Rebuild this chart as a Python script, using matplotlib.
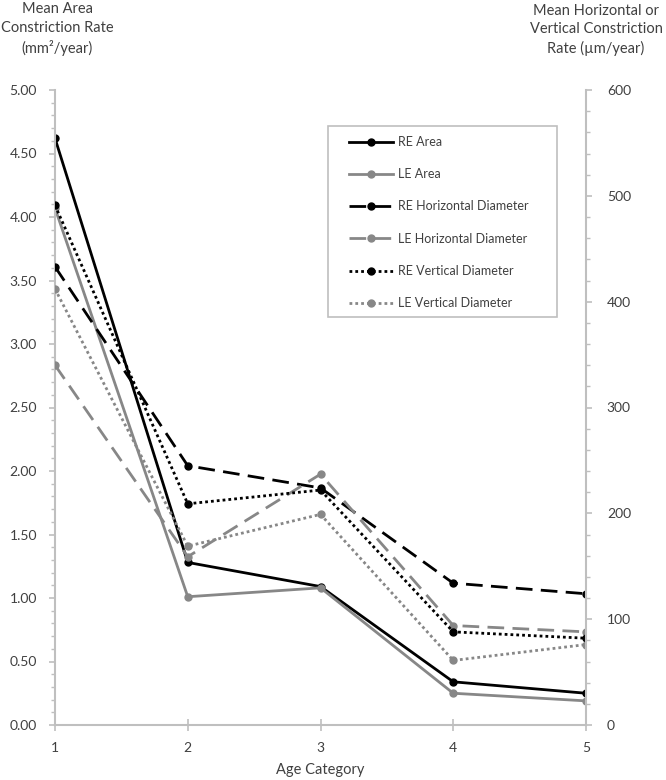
import matplotlib
matplotlib.use("Agg")
import matplotlib.pyplot as plt
from matplotlib.ticker import MultipleLocator, FormatStrFormatter
from matplotlib.patches import Rectangle

plt.rcParams['font.family'] = ['Lato', 'DejaVu Sans']

age = [1, 2, 3, 4, 5]
re_area = [4.62, 1.28, 1.09, 0.34, 0.25]
le_area = [4.07, 1.01, 1.08, 0.25, 0.19]
re_horiz = [433, 245, 224, 134, 124]
le_horiz = [340, 159, 237, 94, 88]
re_vert = [491, 209, 222, 88, 82]
le_vert = [412, 169, 199, 61, 76]

BLACK = '#000000'
GREY = '#878787'
AXC = '#bfbfbf'
TXT = '#404040'

W, H = 666, 780
fig = plt.figure(figsize=(W/100, H/100), dpi=100)
ax = fig.add_axes([55/W, 55/H, (586-55)/W, (725-90)/H])
ax2 = ax.twinx()

lw = 2.0
ms = 5
dashed = (0, (6, 3))
dotted = (0, (1, 1.1))

h1, = ax.plot(age, re_area, color=BLACK, lw=lw, marker='o', ms=ms, label='RE Area')
h2, = ax.plot(age, le_area, color=GREY, lw=lw, marker='o', ms=ms, label='LE Area')
h3, = ax2.plot(age, re_horiz, color=BLACK, lw=lw, ls=dashed, marker='o', ms=ms, label='RE Horizontal Diameter')
h4, = ax2.plot(age, le_horiz, color=GREY, lw=lw, ls=dashed, marker='o', ms=ms, label='LE Horizontal Diameter')
h5, = ax2.plot(age, re_vert, color=BLACK, lw=lw, ls=dotted, marker='o', ms=ms, label='RE Vertical Diameter')
h6, = ax2.plot(age, le_vert, color=GREY, lw=lw, ls=dotted, marker='o', ms=ms, label='LE Vertical Diameter')

ax.set_xlim(1, 5)
ax.set_ylim(0, 5)
ax2.set_ylim(0, 600)
ax.set_xticks(age)
ax.yaxis.set_major_locator(MultipleLocator(0.5))
ax.yaxis.set_minor_locator(MultipleLocator(0.1))
ax.yaxis.set_major_formatter(FormatStrFormatter('%.2f'))
ax2.yaxis.set_major_locator(MultipleLocator(100))
ax2.yaxis.set_minor_locator(MultipleLocator(20))

for a in (ax, ax2):
    a.spines['top'].set_visible(False)
    for s in ('left', 'right', 'bottom'):
        a.spines[s].set_color(AXC)
        a.spines[s].set_linewidth(1.5)
    a.tick_params(axis='both', which='both', colors=AXC, labelcolor=TXT, labelsize=10)
ax.spines['right'].set_visible(False)
ax2.spines['left'].set_visible(False)
ax2.spines['bottom'].set_visible(False)
ax.tick_params(axis='y', which='major', length=4, width=1.2, pad=9)
ax.tick_params(axis='y', which='minor', length=3, width=1)
ax.tick_params(axis='x', which='major', direction='inout', length=8, width=1.2, pad=8)
ax2.tick_params(axis='y', which='major', length=4, width=1.2, pad=11)
ax2.tick_params(axis='y', which='minor', length=3, width=1)

fig.text(320/W, 1 - 770/H, 'Age Category', ha='center', va='center', fontsize=10.5, color=TXT)

fig.text(57/W, 1 - 29/H, 'Mean Area\nConstriction Rate\n(mm²/year)', ha='center', va='center',
         fontsize=10.5, color=TXT, linespacing=1.4)
fig.text(596/W, 1 - 30/H, 'Mean Horizontal or\nVertical Constriction\nRate (µm/year)', ha='center', va='center',
         fontsize=10.5, color=TXT, linespacing=1.4)

# legend frame drawn separately (figure pixel coordinates from the reference)
fig.patches.append(Rectangle((328/W, 1 - 317/H), (557-328)/W, (317-126)/H,
                             transform=fig.transFigure, facecolor='white',
                             edgecolor=AXC, linewidth=1.2, zorder=5))
leg = fig.legend(handles=[h1, h2, h3, h4, h5, h6], loc='upper left',
                 bbox_to_anchor=(349/W, 1 - 136/H), numpoints=1,
                 handlelength=3.5, handletextpad=0.4, labelspacing=1.62, borderpad=0,
                 fontsize=9, frameon=False, borderaxespad=0)
leg.set_zorder(6)
for t in leg.get_texts():
    t.set_color(TXT)

fig.savefig('out.png', dpi=100)
